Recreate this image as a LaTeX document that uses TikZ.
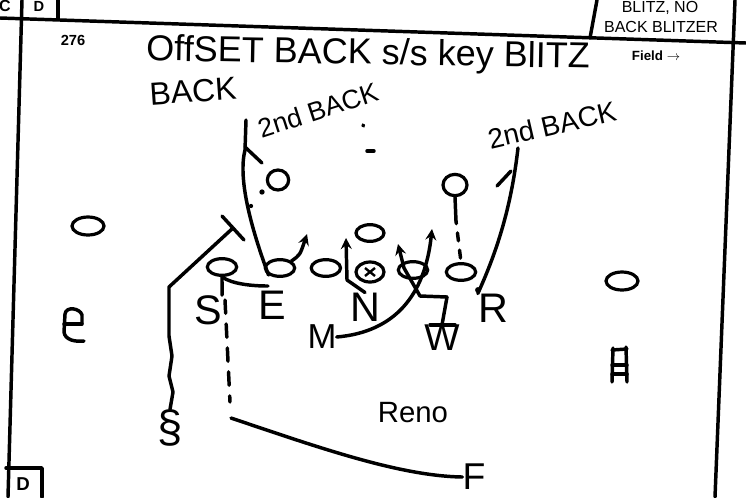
\documentclass[tikz,border=0pt]{standalone}
\usepackage{fontspec}
\setmainfont{Liberation Sans}
\usepackage{tikz}
\usetikzlibrary{shapes.geometric, arrows, positioning, calc}
\tikzstyle{man} = [ellipse, draw, line width=2.4pt, minimum width=22pt, minimum height=12.5pt, inner sep=0pt]
\tikzstyle{dfn} = [inner sep=0pt, font=\fontsize{31}{31}\selectfont]
\tikzstyle{hand} = [inner sep=0pt, font=\fontsize{20}{20}\selectfont]
\tikzstyle{tag} = [inner sep=0pt, font=\bfseries\fontsize{11}{11}\selectfont]
\tikzstyle{pen} = [line width=2.6pt, line cap=round, line join=round]
\tikzstyle{route} = [pen, ->, >=stealth]

\begin{document}
\begin{tikzpicture}[x=0.75pt, y=-0.75pt]
    \useasboundingbox (0,0) rectangle (746,497);
    % Card frame
    \draw[pen] (0,18) -- (746,43);
    \draw[pen] (22,0) -- (8,497);
    \draw[pen] (58,0) -- (58,19);
    \draw[pen] (735,0) -- (715,497);
    \draw[pen] (597,0) -- (590,38);
    \draw[pen] (6,468) -- (42,468) -- (42,497);
    \node[tag, font=\bfseries\fontsize{12}{12}\selectfont] (boxC) at (5,6) {C};
    \node[tag, font=\bfseries\fontsize{11}{11}\selectfont] (boxB) at (39,6) {D};
    \node[tag, font=\bfseries\fontsize{14}{14}\selectfont] (boxD) at (23,484) {D};
    \node[inner sep=0pt, font=\fontsize{12}{12}\selectfont] (note1) at (660,8) {BLITZ, NO};
    \node[inner sep=0pt, font=\fontsize{12}{12}\selectfont] (note2) at (661,27) {BACK BLITZER};
    
    % Titles
    \node[tag] (num) at (73,40) {276};
    \node[inner sep=0pt, font=\fontsize{27}{27}\selectfont, rotate=-1] (title) at (368,55) {OffSET BACK s/s key BlITZ};
    \node[tag, font=\bfseries\fontsize{10}{10}\selectfont] (field) at (656,56) {Field $\rightarrow$};
    \node[inner sep=0pt, font=\fontsize{24}{24}\selectfont, rotate=4] (back) at (193,91) {BACK};
    \node[hand, rotate=18] (backL) at (318,110) {2nd BACK};
    \node[hand, font=\fontsize{21}{21}\selectfont, rotate=13] (backR) at (552,125) {2nd BACK};
    \node[hand, font=\fontsize{22}{22}\selectfont] (reno) at (413,413) {Reno};
    
    % Offense
    \node[man, minimum width=24pt, minimum height=13.5pt] (wrL) at (88,226) {};
    \node[man] (o1) at (222,267) {};
    \node[man] (o2) at (280,268) {};
    \node[man, right=10pt of o2] (o3) {};
    \node[man, minimum width=21pt, minimum height=15pt] (ctr) at (370,272) {};
    \node[man] (o4) at (413,270) {};
    \node[man] (o5) at (461,272) {};
    \node[man, minimum width=21pt] (qb) at (370,233) {};
    \node[man, minimum width=16pt, minimum height=15pt] (bkL) at (278,180) {};
    \node[man, minimum width=18pt, minimum height=16pt] (bkR) at (455,185) {};
    \node[man, minimum width=24pt, minimum height=13.5pt] (wrR) at (622,281) {};
    \draw[line width=1.8pt] ($(ctr)+(-5,-4)$) -- ($(ctr)+(5,4)$);
    \draw[line width=1.8pt] ($(ctr)+(-5,4)$) -- ($(ctr)+(5,-4)$);
    
    % Defense
    \node[dfn] (S) at (208,310) {S};
    \node[dfn] (E) at (272,305) {E};
    \node[dfn] (N) at (365,307) {N};
    \node[dfn, font=\fontsize{26}{26}\selectfont] (M) at (322,337) {M};
    \node[dfn, font=\fontsize{28}{28}\selectfont] (W) at (442,338) {W};
    \node[dfn] (R) at (493,308) {R};
    \node[dfn, font=\fontsize{34}{34}\selectfont] (SS) at (170,428) {\S};
    \node[dfn, font=\fontsize{28}{28}\selectfont] (F) at (474,477) {F};
    % corners
    \draw[pen] (82,324) -- (82,315) .. controls (80,308) and (66,306) .. (65,314) -- (64,332) .. controls (65,340) and (75,342) .. (84,341);
    \draw[pen] (64,324) -- (82,324);
    \draw[pen] (612,350) -- (627,349);
    \draw[pen] (613,348) -- (612,382);
    \draw[pen] (626,347) -- (627,382);
    \draw[pen] (612,365) -- (627,365);
    \draw[pen] (612,374) -- (627,374);
    
    % Routes
    \coordinate (ssTip) at (233,228);
    \draw[pen] (SS.north) -- (173,392) -- (169,376) -- (172,356) -- (169,336) -- (169,287) -- (ssTip);
    \draw[pen] ($(ssTip)+(-11,-12)$) -- ($(ssTip)+(11,12)$);
    \coordinate (bkLtop) at (246,120);
    \draw[pen] (o2.south west) .. controls (250,225) and (238,178) .. (245,150) -- (bkLtop);
    \draw[pen] (245,147) -- (262,163);
    \fill (262,192) circle (2pt);
    \fill (251,206) circle (1.6pt);
    \draw[pen] (o1.south) .. controls (232,284) and (252,286) .. (268,286);
    \draw[pen] (o1.south) -- (S.north east);
    \coordinate (eTip) at (307,234);
    \draw[route] (o2.north east) .. controls (300,255) .. (eTip);
    \coordinate (nTip) at (346,238);
    \draw[route] (N.north) -- (347,280) -- (nTip);
    \coordinate (mTip) at (432,229);
    \draw[route] (M.east) .. controls (395,332) and (425,295) .. (mTip);
    \coordinate (wTop) at (447,297);
    \coordinate (wTip) at (398,244);
    \draw[pen] ($(W.north)+(-12,0)$) -- ($(W.north)+(13,0)$);
    \draw[pen] (W.north) -- (wTop);
    \draw[route] (wTop) -- (420,296) -- (404,268) -- (wTip);
    \coordinate (rTop) at (518,148);
    \draw[pen] (R.north west) .. controls (500,245) and (512,200) .. (rTop);
    \draw[pen] (497,186) -- (511,171);
    \fill (478,290) circle (2.2pt);
    \coordinate (bkRtail) at (456,221);
    \draw[pen] (bkR.south) -- (bkRtail);
    \draw[pen, dash pattern=on 6pt off 7pt, dash phase=-9pt] (bkRtail) -- (o5.north);
    \coordinate (sTop) at (225,300);
    \coordinate (sTurn) at (231,418);
    \draw[pen, dash pattern=on 10pt off 8pt] (sTop) -- (230,402);
    \draw[pen] (sTurn) .. controls (320,448) and (400,476) .. (F.west);
    \draw[pen] (363,125) -- (363.5,126);
    \draw[pen] (367,151) -- (374,151);
\end{tikzpicture}
\end{document}
